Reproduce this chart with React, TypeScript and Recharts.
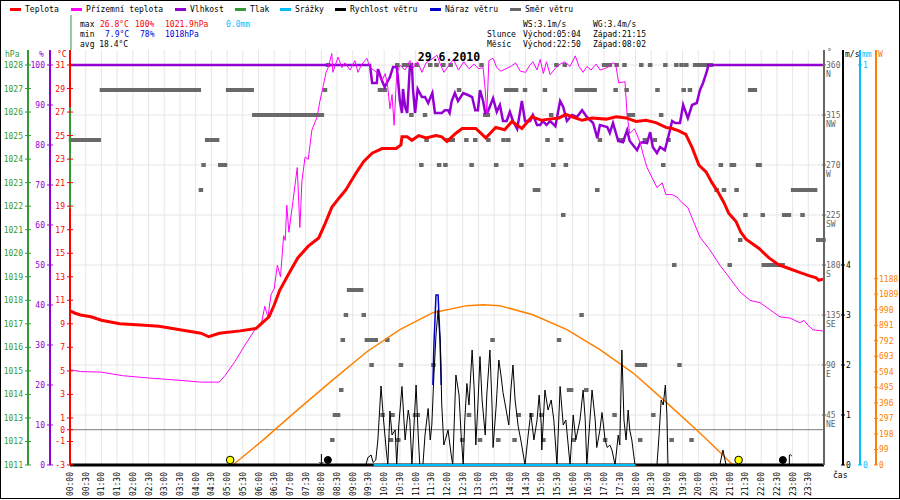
import React from 'react'
import { ComposedChart, Line, Scatter, XAxis, YAxis, CartesianGrid, ReferenceLine } from 'recharts'

type Row = [string, number]

const FONT = '"DejaVu Sans Mono", monospace'

// air temperature, °C
const TEMPERATURE: Row[] = [
  ['00:00', 10.1], ['00:10', 9.9], ['00:20', 9.75], ['00:40', 9.6], ['01:00', 9.3], ['01:35', 9.0],
  ['02:15', 8.9], ['02:50', 8.8], ['03:30', 8.5], ['04:10', 8.2], ['04:25', 7.9], ['04:45', 8.2],
  ['05:25', 8.4], ['05:55', 8.6], ['06:05', 9.0], ['06:20', 9.6], ['06:30', 10.6], ['06:40', 11.8],
  ['06:57', 13.2], ['07:15', 14.6], ['07:35', 15.6], ['07:55', 16.3], ['08:07', 17.5], ['08:20', 18.9],
  ['08:34', 19.7], ['08:47', 20.4], ['09:06', 21.8], ['09:21', 22.8], ['09:37', 23.5], ['09:56', 23.9],
  ['10:23', 23.9], ['10:32', 24.2], ['10:34', 24.9], ['10:44', 24.9], ['10:53', 24.6], ['11:06', 25.0],
  ['11:20', 24.8], ['11:39', 25.0], ['11:50', 24.9], ['12:00', 24.5], ['12:17', 25.2], ['12:29', 25.6],
  ['12:55', 25.6], ['13:14', 24.8], ['13:33', 25.7], ['13:50', 25.5], ['14:04', 26.2], ['14:23', 25.6],
  ['14:42', 26.6], ['15:01', 26.3], ['15:15', 26.4], ['15:34', 26.5], ['15:47', 26.8], ['15:59', 26.6],
  ['16:18', 26.3], ['16:37', 26.5], ['17:04', 26.4], ['17:23', 26.6], ['17:42', 26.5], ['18:01', 26.2],
  ['18:20', 26.3], ['18:39', 26.1], ['18:58', 25.7], ['19:10', 25.6], ['19:23', 25.4], ['19:36', 25.1],
  ['19:48', 24.0], ['20:01', 22.5], ['20:15', 21.9], ['20:26', 21.0], ['20:39', 20.1], ['20:49', 19.3],
  ['20:58', 18.4], ['21:12', 17.7], ['21:21', 16.8], ['21:31', 16.2], ['21:56', 15.4], ['22:15', 14.6],
  ['22:34', 14.0], ['22:53', 13.7], ['23:12', 13.4], ['23:31', 13.1], ['23:45', 12.9], ['23:50', 12.7],
  ['23:58', 12.8],
]

// ground temperature, °C
const GROUND_TEMP: Row[] = [
  ['00:00', 5.1], ['00:20', 4.95], ['01:00', 4.9], ['01:40', 4.6], ['02:30', 4.4], ['03:30', 4.2],
  ['04:10', 4.05], ['04:45', 4.05], ['04:56', 4.6], ['05:15', 5.8], ['05:34', 7.2], ['05:53', 8.5],
  ['06:05', 8.9], ['06:12', 10.5], ['06:18', 9.6], ['06:24', 11.5], ['06:30', 12.0], ['06:36', 14.0],
  ['06:42', 13.0], ['06:48', 16.5], ['06:51', 16.1], ['06:54', 19.1], ['06:58', 16.8], ['07:06', 19.5],
  ['07:14', 22.3], ['07:19', 17.2], ['07:23', 21.2], ['07:29', 23.2], ['07:35', 23.0], ['07:42', 25.5],
  ['07:52', 26.6], ['07:57', 27.9], ['08:03', 29.1], ['08:09', 30.4], ['08:13', 30.8], ['08:20', 32.0],
  ['08:22', 30.4], ['08:32', 31.7], ['08:39', 30.8], ['08:45', 31.2], ['08:55', 30.6], ['09:04', 31.4],
  ['09:10', 30.4], ['09:16', 31.0], ['09:27', 31.6], ['09:33', 30.8], ['09:46', 30.4], ['09:56', 29.7],
  ['10:02', 30.3], ['10:07', 29.1], ['10:11', 27.3], ['10:15', 28.5], ['10:19', 25.9], ['10:24', 30.3],
  ['10:30', 31.0], ['10:40', 30.6], ['10:49', 31.4], ['10:56', 30.8], ['11:04', 31.3], ['11:12', 30.4],
  ['11:20', 31.2], ['11:41', 31.85], ['11:48', 31.0], ['11:54', 30.4], ['12:02', 30.9], ['12:12', 31.5],
  ['12:22', 30.6], ['12:32', 31.3], ['12:42', 30.7], ['12:52', 31.1], ['13:00', 30.7], ['13:09', 30.8],
  ['13:13', 28.9], ['13:16', 26.9], ['13:20', 31.4], ['13:28', 31.6], ['13:35', 30.8], ['13:43', 30.5],
  ['13:52', 30.7], ['14:02', 30.9], ['14:11', 31.2], ['14:20', 30.5], ['14:30', 30.4], ['14:38', 31.0],
  ['14:44', 31.3], ['14:52', 30.6], ['14:58', 31.5], ['15:04', 30.3], ['15:10', 31.3], ['15:17', 30.2],
  ['15:28', 30.8], ['15:36', 31.1], ['15:45', 31.3], ['15:55', 30.9], ['16:05', 31.8], ['16:12', 30.9],
  ['16:20', 30.4], ['16:27', 30.9], ['16:35', 30.6], ['16:45', 31.1], ['16:52', 30.6], ['17:00', 30.7],
  ['17:10', 30.9], ['17:16', 31.2], ['17:22', 31.1], ['17:28', 29.5], ['17:40', 29.6], ['17:44', 26.75],
  ['17:49', 25.2], ['17:58', 25.6], ['18:09', 24.45], ['18:14', 23.5], ['18:22', 22.3], ['18:31', 21.5],
  ['18:41', 20.6], ['18:51', 21.0], ['18:58', 20.0], ['19:10', 20.0], ['19:19', 19.8], ['19:29', 19.3],
  ['19:40', 18.9], ['19:50', 17.8], ['20:03', 16.4], ['20:22', 15.3], ['20:41', 14.0], ['21:00', 12.9],
  ['21:20', 11.7], ['21:39', 11.0], ['21:58', 10.8], ['22:17', 10.2], ['22:36', 9.6], ['22:55', 9.5],
  ['23:14', 9.1], ['23:22', 9.3], ['23:29', 8.9], ['23:39', 8.5], ['23:58', 8.4],
]

// relative humidity, %
const HUMIDITY: Row[] = [
  ['00:00', 100], ['09:33', 100], ['09:37', 95.5], ['09:46', 95.5], ['09:48', 99], ['09:56', 96],
  ['10:01', 94.5], ['10:07', 96], ['10:11', 97], ['10:17', 99.5], ['10:24', 99.5], ['10:26', 97],
  ['10:30', 91], ['10:34', 88], ['10:36', 94], ['10:40', 89.5], ['10:44', 88], ['10:49', 99.5],
  ['10:53', 100], ['10:55', 94], ['10:59', 88], ['11:04', 94], ['11:12', 92], ['11:18', 92],
  ['11:24', 90.5], ['11:32', 93], ['11:37', 88], ['11:50', 88], ['11:56', 88.7], ['12:02', 88.7],
  ['12:05', 88], ['12:09', 91], ['12:15', 93], ['12:21', 91], ['12:31', 93], ['12:40', 92.5],
  ['12:48', 92], ['12:54', 88.7], ['12:59', 88.7], ['13:03', 93.7], ['13:09', 91], ['13:13', 88],
  ['13:18', 88.3], ['13:28', 91.7], ['13:35', 88.3], ['13:41', 90], ['13:47', 86], ['13:54', 86],
  ['14:00', 88.3], ['14:06', 86], ['14:14', 84], ['14:23', 91], ['14:29', 86], ['14:39', 86],
  ['14:44', 87.5], ['14:52', 85], ['14:58', 85], ['15:03', 86], ['15:10', 85], ['15:17', 86],
  ['15:27', 84.7], ['15:36', 91], ['15:42', 89.5], ['15:49', 86], ['15:59', 87.5], ['16:08', 87],
  ['16:18', 88.7], ['16:27', 87], ['16:39', 85.5], ['16:47', 81.7], ['16:52', 85], ['17:06', 84.5],
  ['17:11', 83], ['17:17', 85.5], ['17:27', 81], ['17:36', 80.7], ['17:44', 83.7], ['17:49', 81],
  ['18:03', 78.7], ['18:09', 80.5], ['18:14', 80.7], ['18:22', 80.5], ['18:28', 83.2], ['18:33', 79.5],
  ['18:41', 78], ['18:47', 79.5], ['18:56', 78.7], ['19:02', 81.7], ['19:10', 86], ['19:16', 85.5],
  ['19:25', 85.5], ['19:31', 90], ['19:40', 86.7], ['19:48', 90], ['19:57', 90.5], ['20:03', 93.7],
  ['20:09', 95.5], ['20:17', 98.7], ['20:19', 100], ['24:00', 100],
]

// pressure, hPa (only a short trace at midnight)
const PRESSURE: Row[] = [['00:00', 1026.2], ['00:00', 1021.9]]

// precipitation, mm
const RAIN: Row[] = [['09:40', 0], ['18:00', 0]]

// wind speed, m/s
const WIND_SPEED: Row[] = [
  ['00:00', 0], ['09:25', 0], ['09:29', 0.15], ['09:35', 0.2], ['09:39', 0.05], ['09:44', 0.1],
  ['09:48', 0.5], ['09:54', 1.58], ['09:58', 1.0], ['10:04', 0.3], ['10:07', 0], ['10:11', 1.08],
  ['10:15', 0.6], ['10:21', 0.7], ['10:24', 0], ['10:28', 0.8], ['10:34', 1.57], ['10:40', 0.5],
  ['10:46', 1.1], ['10:49', 0.9], ['10:53', 0], ['10:57', 0.8], ['11:01', 1.6], ['11:05', 0.6],
  ['11:08', 0], ['11:14', 0], ['11:18', 0.6], ['11:24', 1.13], ['11:28', 0.5], ['11:31', 0.8],
  ['11:35', 1.8], ['11:39', 2.6], ['11:43', 3.1], ['11:47', 2.5], ['11:50', 1.2], ['11:54', 0.4],
  ['12:02', 0.7], ['12:08', 0.2], ['12:11', 0], ['12:17', 1.8], ['12:23', 1.4], ['12:27', 0.6],
  ['12:31', 0], ['12:34', 0.9], ['12:38', 1.63], ['12:42', 1.2], ['12:48', 2.3], ['12:52', 1.5],
  ['12:55', 0.4], ['12:59', 1.2], ['13:03', 2.17], ['13:07', 1.3], ['13:13', 0.6], ['13:16', 1.4],
  ['13:22', 2.3], ['13:26', 1.2], ['13:28', 0.35], ['13:34', 1.2], ['13:39', 2.1], ['13:43', 1.8],
  ['13:47', 1.45], ['13:53', 1.1], ['13:58', 0.8], ['14:02', 1.5], ['14:06', 2.0], ['14:10', 1.3],
  ['14:16', 0.77], ['14:21', 0.5], ['14:29', 0], ['14:35', 0.6], ['14:40', 1.04], ['14:46', 0.5],
  ['14:52', 0.9], ['14:56', 1.4], ['15:00', 0.8], ['15:01', 0.3], ['15:07', 1.5], ['15:13', 1.1],
  ['15:19', 1.3], ['15:24', 0.9], ['15:30', 0], ['15:36', 1.57], ['15:42', 0.8], ['15:47', 0.9],
  ['15:55', 0], ['16:01', 1.0], ['16:06', 0.5], ['16:14', 0.9], ['16:20', 1.5], ['16:24', 0.9],
  ['16:27', 0], ['16:33', 0.9], ['16:37', 1.5], ['16:43', 0.9], ['16:46', 0.35], ['16:52', 0.7],
  ['16:56', 1.05], ['17:02', 0.5], ['17:06', 0.35], ['17:11', 0.4], ['17:15', 0.3], ['17:21', 0],
  ['17:27', 0.6], ['17:30', 0.4], ['17:34', 2.3], ['17:38', 0.9], ['17:42', 0.5], ['17:46', 1.1],
  ['17:49', 0.7], ['17:53', 0.5], ['17:59', 0], ['18:41', 0], ['18:45', 0.6], ['18:49', 1.3],
  ['18:53', 1.2], ['18:57', 1.6], ['19:00', 1.0], ['19:02', 0], ['20:41', 0], ['20:47', 0.3],
  ['20:53', 0], ['24:00', 0],
]

// wind gust, m/s (only visible where it rises above the speed)
const WIND_GUST: Row[] = [
  ['11:33', 1.6], ['11:35', 2.4], ['11:39', 3.4], ['11:43', 3.4], ['11:47', 2.4], ['11:49', 1.6],
]

// solar radiation, W
const SOLAR: Row[] = [
  ['05:11', 0], ['06:09', 160], ['07:19', 364], ['08:22', 543], ['09:27', 722], ['10:30', 863],
  ['11:33', 971], ['12:38', 1016], ['13:09', 1022], ['13:41', 1016], ['14:44', 958], ['15:49', 863],
  ['16:52', 735], ['17:55', 588], ['19:00', 396], ['20:03', 204], ['20:41', 83], ['21:06', 0],
]

// wind direction: steady stretches [first sample, last sample, degrees]
const WIND_DIR_RUNS: [string, string, number][] = [
  ['00:02', '00:55', 292.5], ['01:01', '04:06', 337.5], ['04:22', '04:41', 292.5], ['04:47', '04:56', 270],
  ['05:02', '05:47', 337.5], ['05:52', '08:01', 315], ['08:26', '08:32', 45], ['08:53', '09:16', 157.5],
  ['09:27', '09:44', 112.5], ['09:52', '10:01', 337.5], ['10:38', '10:49', 360], ['10:59', '11:04', 45],
  ['12:02', '12:11', 292.5], ['13:13', '13:18', 315], ['13:53', '14:12', 337.5], ['14:48', '14:54', 247.5],
  ['15:53', '15:57', 67.5], ['16:08', '16:42', 337.5], ['17:00', '17:11', 360], ['17:29', '17:36', 292.5],
  ['17:48', '17:55', 315], ['18:03', '18:18', 90], ['19:54', '20:24', 360], ['21:04', '21:08', 270],
  ['21:39', '21:48', 337.5], ['21:54', '21:57', 270], ['22:05', '22:41', 180], ['22:44', '22:53', 225],
  ['23:01', '23:43', 247.5], ['23:49', '23:59', 202.5],
]

// wind direction: single samples
const WIND_DIR_MARKS: Row[] = [
  ['04:10', 247.5], ['04:15', 270], ['08:07', 337.5], ['08:13', 360], ['08:21', 22.5], ['08:38', 67.5],
  ['08:41', 112.5], ['08:47', 135], ['09:21', 135], ['09:36', 90], ['09:57', 45], ['10:06', 112.5],
  ['10:13', 22.5], ['10:16', 45], ['10:25', 360], ['10:27', 22.5], ['10:32', 90], ['10:52', 315],
  ['11:02', 360], ['11:11', 270], ['11:18', 315], ['11:21', 292.5], ['11:28', 360], ['11:34', 90],
  ['11:40', 360], ['11:45', 270], ['11:53', 360], ['11:57', 270], ['12:07', 360], ['12:23', 337.5],
  ['12:29', 22.5], ['12:37', 292.5], ['12:42', 45], ['12:47', 270], ['12:54', 292.5], ['13:03', 22.5],
  ['13:06', 360], ['13:19', 292.5], ['13:27', 112.5], ['13:34', 270], ['13:38', 22.5], ['13:48', 292.5],
  ['13:57', 292.5], ['14:09', 22.5], ['14:17', 45], ['14:22', 270], ['14:29', 337.5], ['14:41', 45],
  ['15:00', 45], ['15:04', 22.5], ['15:07', 337.5], ['15:12', 292.5], ['15:19', 315], ['15:23', 270],
  ['15:29', 360], ['15:34', 112.5], ['15:38', 292.5], ['15:42', 225], ['15:45', 360], ['15:47', 270],
  ['16:02', 22.5], ['16:17', 135], ['16:26', 67.5], ['16:47', 247.5], ['16:52', 292.5], ['17:02', 22.5],
  ['17:20', 45], ['17:22', 337.5], ['17:24', 360], ['17:39', 360], ['17:43', 337.5], ['18:09', 22.5],
  ['18:11', 360], ['18:18', 292.5], ['18:28', 360], ['18:34', 45], ['18:37', 292.5], ['18:42', 337.5],
  ['18:49', 315], ['18:53', 270], ['18:57', 360], ['19:03', 292.5], ['19:09', 22.5], ['19:14', 180],
  ['19:18', 360], ['19:24', 90], ['19:28', 360], ['19:32', 337.5], ['19:37', 360], ['19:44', 337.5],
  ['19:47', 22.5], ['20:35', 247.5], ['20:43', 270], ['20:49', 247.5], ['21:00', 180], ['21:13', 247.5],
  ['21:20', 202.5], ['21:30', 225], ['22:03', 225], ['23:19', 225],
]

const SUN_EVENTS = ['05:04', '21:15']
const MOON_EVENTS: [string, 'rise' | 'set'][] = [['08:02', 'set'], ['22:50', 'rise']]

const TEMP_TICKS = [31, 29, 27, 25, 23, 21, 19, 17, 15, 13, 11, 9, 7, 5, 3, 1, 0, -1, -3]
const HUM_TICKS = [0, 10, 20, 30, 40, 50, 60, 70, 80, 90, 100]
const PRESS_TICKS = [1011, 1012, 1013, 1014, 1015, 1016, 1017, 1018, 1019, 1020, 1021, 1022, 1023, 1024, 1025, 1026, 1027, 1028]
const DIR_TICKS = [45, 90, 135, 180, 225, 270, 315, 360]
const DIR_NAMES: Record<number, string> = { 45: 'NE', 90: 'E', 135: 'SE', 180: 'S', 225: 'SW', 270: 'W', 315: 'NW', 360: 'N' }
const SPEED_TICKS = [0, 1, 2, 3, 4]
const RAIN_TICKS = [0, 1]
const SOLAR_TICKS = [0, 99, 198, 297, 396, 495, 594, 693, 792, 891, 990, 1089, 1188]
const TIME_TICKS = Array.from({ length: 48 }, (_, i) => i * 30)

const LEGEND: [string, string][] = [
  ['Teplota', '#ff0000'], ['Přízemní teplota', '#ff00ff'], ['Vlhkost', '#9400d3'], ['Tlak', '#339933'],
  ['Srážky', '#00bfff'], ['Rychlost větru', '#000000'], ['Náraz větru', '#0000cc'], ['Směr větru', '#666666'],
]
const LEGEND_X = [10, 71, 175, 235, 280, 335, 430, 510]

// axis ids: recharts stacks side axes by id order, first one next to the plot
const AX_TEMP = 'a1-temp'
const AX_HUM = 'a2-hum'
const AX_PRESS = 'a3-press'
const AX_GROUND = 'a9-ground'
const AX_DIR = 'b1-dir'
const AX_WIND = 'b2-wind'
const AX_RAIN = 'b3-rain'
const AX_SUN = 'b4-sun'

const toMin = (s: string) => {
  const [h, m] = s.split(':').map(Number)
  return h * 60 + m
}
const pad = (n: number) => String(n).padStart(2, '0')
const fmtTime = (m: number) => `${pad(Math.floor(m / 60))}:${pad(m % 60)}`
const rows = (list: Row[]) => list.map(([t, v]) => ({ t: toMin(t), v }))

const dirPoints = [
  ...WIND_DIR_RUNS.flatMap(([from, to, d]) => {
    const pts: { t: number; v: number }[] = []
    const end = toMin(to)
    for (let t = toMin(from); t < end; t += 4) pts.push({ t, v: d })
    pts.push({ t: end, v: d })
    return pts
  }),
  ...rows(WIND_DIR_MARKS),
]
const sunPoints = SUN_EVENTS.map((t) => ({ t: toMin(t), v: 0 }))
const moonPoints = MOON_EVENTS.map(([t, kind]) => ({ t: toMin(t), v: 0, kind }))

const leftTick = (color: string) => (props: any) => {
  const { x, y, payload } = props
  return (
    <g>
      <line x1={x - 3} x2={x + 3} y1={y} y2={y} stroke={color} />
      <text x={x - 5} y={y + 3} textAnchor="end" fill={color} fontSize={8} fontFamily={FONT}>
        {payload.value}
      </text>
    </g>
  )
}

const rightTick = (color: string) => (props: any) => {
  const { x, y, payload } = props
  return (
    <g>
      <line x1={x - 2} x2={x + 2} y1={y} y2={y} stroke={color} />
      <text x={x + 3} y={y + 3} textAnchor="start" fill={color} fontSize={8} fontFamily={FONT}>
        {payload.value}
      </text>
    </g>
  )
}

const dirTick = (props: any) => {
  const { x, y, payload } = props
  return (
    <g fill="#666" fontSize={8} fontFamily={FONT}>
      <line x1={x - 2} x2={x + 2} y1={y} y2={y} stroke="#666" />
      <text x={x + 2} y={y + 3}>{payload.value}</text>
      <text x={x + 2} y={y + 12}>{DIR_NAMES[payload.value]}</text>
    </g>
  )
}

const timeTick = (props: any) => {
  const { x, y, payload } = props
  return (
    <text
      transform={`translate(${x + 3},${y + 7}) rotate(-90)`}
      textAnchor="end"
      fill="#000"
      fontSize={8}
      fontFamily={FONT}
    >
      {fmtTime(payload.value)}
    </text>
  )
}

const dirMark = (props: any) => (
  <rect x={props.cx - 2.25} y={props.cy - 2} width={4.5} height={4} fill="#696969" />
)

const sunMark = (props: any) => (
  <circle cx={props.cx + 1} cy={props.cy - 5} r={3.8} fill="#ffff00" stroke="#000" />
)

const moonMark = (props: any) => {
  const { cx, cy, payload } = props
  if (payload.kind === 'set') {
    return (
      <g stroke="#000" fill="none">
        <line x1={cx - 1} x2={cx - 1} y1={cy - 11} y2={cy - 1} />
        <path d={`M${cx - 3},${cy - 3} L${cx - 1},${cy - 1} L${cx + 1},${cy - 3}`} />
        <circle cx={cx + 5.5} cy={cy - 5} r={3.5} fill="#000" />
      </g>
    )
  }
  return (
    <g stroke="#000" fill="none">
      <circle cx={cx - 4.5} cy={cy - 5} r={3.5} fill="#000" />
      <line x1={cx + 2} x2={cx + 2} y1={cy - 1} y2={cy - 10} />
      <path d={`M${cx + 2},${cy - 10} Q${cx + 3},${cy - 11} ${cx + 4.5},${cy - 9}`} />
    </g>
  )
}

const Overlay = () => (
  <svg
    width={900}
    height={500}
    style={{ position: 'absolute', left: 0, top: 0, pointerEvents: 'none' }}
    fontFamily={FONT}
    fontSize={8}
  >
    <rect x={0.5} y={0.5} width={899} height={498} fill="none" stroke="#000" />
    {LEGEND.map(([name, color], i) => (
      <g key={name}>
        <rect x={LEGEND_X[i]} y={8} width={11} height={3} fill={color} />
        <text x={LEGEND_X[i] + 15} y={12} fill="#000">{name}</text>
      </g>
    ))}

    <text x={80} y={27} fill="#000">max</text>
    <text x={100} y={27} fill="#ff0000">26.8°C</text>
    <text x={135} y={27} fill="#ff0000">100%</text>
    <text x={165} y={27} fill="#ff0000">1021.9hPa</text>
    <text x={226} y={27} fill="#00bfff">0.0mm</text>
    <text x={80} y={37} fill="#000">min</text>
    <text x={105} y={37} fill="#0000dd">7.9°C</text>
    <text x={140} y={37} fill="#0000dd">78%</text>
    <text x={165} y={37} fill="#0000dd">1018hPa</text>
    <text x={80} y={47} fill="#000">avg 18.4°C</text>

    <text x={523} y={27} fill="#000">WS:3.1m/s</text>
    <text x={593} y={27} fill="#000">WG:3.4m/s</text>
    <text x={487} y={37} fill="#000">Slunce</text>
    <text x={523} y={37} fill="#000">Východ:05:04</text>
    <text x={593} y={37} fill="#000">Západ:21:15</text>
    <text x={487} y={47} fill="#000">Měsíc</text>
    <text x={523} y={47} fill="#000">Východ:22:50</text>
    <text x={593} y={47} fill="#000">Západ:08:02</text>

    <text x={449} y={61} textAnchor="middle" fontSize={11.5} fontWeight="bold" fill="#000">29.6.2010</text>

    <line x1={28} x2={28} y1={50} y2={65} stroke="#339933" strokeWidth={2} />
    <line x1={50} x2={50} y1={50} y2={65} stroke="#9400d3" strokeWidth={2} />
    <line x1={70} x2={70} y1={50} y2={65} stroke="#ff0000" strokeWidth={2} />
    <line x1={71} x2={71} y1={15} y2={50} stroke="#339933" strokeWidth={1} />
    <line x1={824} x2={824} y1={50} y2={65} stroke="#666" strokeWidth={2} />
    <line x1={843} x2={843} y1={50} y2={65} stroke="#000" strokeWidth={2} />
    <line x1={860} x2={860} y1={50} y2={65} stroke="#00bfff" strokeWidth={2} />
    <line x1={876} x2={876} y1={50} y2={65} stroke="#ff8000" strokeWidth={2} />
    <text x={5} y={57} fill="#339933">hPa</text>
    <text x={39} y={57} fill="#9400d3">%</text>
    <text x={57} y={57} fill="#ff0000">°C</text>
    <text x={827} y={55} fill="#666">°</text>
    <text x={845} y={57} fill="#000">m/s</text>
    <text x={862} y={57} fill="#00bfff">mm</text>
    <text x={878} y={57} fill="#ff8000">W</text>
    <text x={833} y={478} fill="#000">čas</text>
  </svg>
)

export default function App() {
  return (
    <div style={{ position: 'absolute', left: 0, top: 0, width: 900, height: 500, background: '#fff' }}>
      <ComposedChart width={900} height={500} margin={{ top: 65, right: 0, bottom: 0, left: 0 }}>
        <XAxis
          dataKey="t"
          type="number"
          domain={[0, 1440]}
          ticks={TIME_TICKS}
          interval={0}
          height={35}
          tickSize={0}
          tickMargin={0}
          tick={timeTick}
          axisLine={{ stroke: '#000', strokeWidth: 3 }}
        />
        <YAxis yAxisId={AX_TEMP} orientation="left" width={20} domain={[-3, 31]} ticks={TEMP_TICKS} interval={0}
          tickSize={0} tickMargin={0} tick={leftTick('#ff0000')} axisLine={{ stroke: '#ff0000', strokeWidth: 2 }} />
        <YAxis yAxisId={AX_HUM} orientation="left" width={22} domain={[0, 100]} ticks={HUM_TICKS} interval={0}
          tickSize={0} tickMargin={0} tick={leftTick('#9400d3')} axisLine={{ stroke: '#9400d3', strokeWidth: 2 }} />
        <YAxis yAxisId={AX_PRESS} orientation="left" width={28} domain={[1011, 1028]} ticks={PRESS_TICKS} interval={0}
          tickSize={0} tickMargin={0} tick={leftTick('#339933')} axisLine={{ stroke: '#339933', strokeWidth: 2 }} />
        <YAxis yAxisId={AX_GROUND} hide domain={[-3, 32.3]} padding={{ top: -15, bottom: 0 }} />
        <YAxis yAxisId={AX_DIR} orientation="right" width={19} domain={[0, 360]} ticks={DIR_TICKS} interval={0}
          tickSize={0} tickMargin={0} tick={dirTick} axisLine={{ stroke: '#666', strokeWidth: 2 }} />
        <YAxis yAxisId={AX_WIND} orientation="right" width={17} domain={[0, 8]} ticks={SPEED_TICKS} interval={0}
          tickSize={0} tickMargin={0} tick={rightTick('#000')} axisLine={{ stroke: '#000', strokeWidth: 2 }} />
        <YAxis yAxisId={AX_RAIN} orientation="right" width={16} domain={[0, 1]} ticks={RAIN_TICKS} interval={0}
          tickSize={0} tickMargin={0} tick={rightTick('#00bfff')} axisLine={{ stroke: '#00bfff', strokeWidth: 2 }} />
        <YAxis yAxisId={AX_SUN} orientation="right" width={24} domain={[0, 2550]} ticks={SOLAR_TICKS} interval={0}
          tickSize={0} tickMargin={0} tick={rightTick('#ff8000')} axisLine={{ stroke: '#ff8000', strokeWidth: 2 }} />

        <CartesianGrid yAxisId={AX_DIR} vertical={false} stroke="#e6e6e6" />
        {TIME_TICKS.map((t) => (
          <ReferenceLine
            key={t}
            yAxisId={AX_GROUND}
            segment={[{ x: t, y: -3 }, { x: t, y: 32.3 }]}
            stroke="#e6e6e6"
            zIndex={-90}
          />
        ))}
        <ReferenceLine yAxisId={AX_TEMP} y={0} stroke="#7a7a7a" zIndex={-80} />

        <Scatter yAxisId={AX_DIR} data={dirPoints} dataKey="v" shape={dirMark} isAnimationActive={false} zIndex={350} />
        <Line yAxisId={AX_SUN} data={rows(SOLAR)} dataKey="v" stroke="#ff8000" strokeWidth={1.5} dot={false} isAnimationActive={false} />
        <Line yAxisId={AX_HUM} data={rows(HUMIDITY)} dataKey="v" stroke="#9400d3" strokeWidth={2.5} dot={false} isAnimationActive={false} />
        <Line yAxisId={AX_GROUND} data={rows(GROUND_TEMP)} dataKey="v" stroke="#ff00ff" strokeWidth={1} dot={false} isAnimationActive={false} />
        <Line yAxisId={AX_TEMP} data={rows(TEMPERATURE)} dataKey="v" stroke="#ff0000" strokeWidth={3} dot={false} isAnimationActive={false} />
        <Line yAxisId={AX_WIND} data={rows(WIND_GUST)} dataKey="v" stroke="#0000cc" strokeWidth={1.5} dot={false} isAnimationActive={false} />
        <Line yAxisId={AX_WIND} data={rows(WIND_SPEED)} dataKey="v" stroke="#000" strokeWidth={1} dot={false} isAnimationActive={false} />
        <Line yAxisId={AX_RAIN} data={rows(RAIN)} dataKey="v" stroke="#00bfff" strokeWidth={2} dot={false} isAnimationActive={false} zIndex={550} />
        <Line yAxisId={AX_PRESS} data={rows(PRESSURE)} dataKey="v" stroke="#339933" strokeWidth={2} dot={false} isAnimationActive={false} zIndex={550} />
        <Scatter yAxisId={AX_SUN} data={sunPoints} dataKey="v" shape={sunMark} isAnimationActive={false} />
        <Scatter yAxisId={AX_SUN} data={moonPoints} dataKey="v" shape={moonMark} isAnimationActive={false} />
      </ComposedChart>
      <Overlay />
    </div>
  )
}
